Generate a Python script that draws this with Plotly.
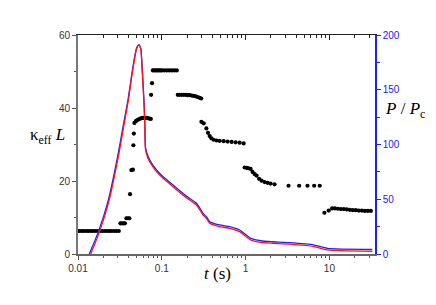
import plotly.graph_objects as go

# kappa_eff L (left axis) vs t
t_kappa = [0.0103, 0.0110, 0.0117, 0.0125, 0.0133, 0.0142, 0.0151, 0.0161, 0.0172, 0.0184,
           0.0196, 0.0209, 0.0223, 0.0237, 0.0253, 0.0270, 0.0288, 0.0307,
           0.0321, 0.0334, 0.0348, 0.0363,
           0.0378, 0.0394, 0.0410,
           0.0418,
           0.0433, 0.0452,
           0.0458, 0.0464,
           0.0471, 0.0490, 0.0511, 0.0532, 0.0555, 0.0578, 0.0602, 0.0627, 0.0654, 0.0681, 0.0710, 0.0739,
           0.0745, 0.0765,
           0.0781, 0.0814, 0.0848, 0.0884, 0.0921, 0.0960, 0.1000, 0.1071, 0.1147, 0.1228, 0.1315, 0.1409, 0.1509,
           0.1550, 0.1638, 0.1730, 0.1828, 0.1931, 0.2040, 0.2154, 0.2276, 0.2405, 0.2540, 0.2683, 0.2835, 0.2953,
           0.2970, 0.3162, 0.3403, 0.3557, 0.3728, 0.3905, 0.4159, 0.4516, 0.4903, 0.5470, 0.6105, 0.6813, 0.7603, 0.8483, 0.9467,
           0.973, 1.028, 1.086, 1.147, 1.211, 1.280, 1.352, 1.448, 1.551, 1.684, 1.828, 1.984, 2.214,
           3.251, 4.358, 5.471, 6.576, 7.664,
           8.719, 9.81, 10.77, 11.63, 12.63, 13.71, 14.88, 16.16, 17.54, 19.05, 20.68, 22.45, 24.38, 26.46, 28.73, 31.19]
kappa_L = [6.3] * 18 + \
          [8.4, 8.4, 8.4, 8.4] + \
          [9.8, 9.8, 9.8] + \
          [16.4] + \
          [23.0, 23.1] + \
          [29.8, 33.0] + \
          [35.9, 36.4, 36.7, 36.9, 37.1, 37.2, 37.3, 37.3, 37.3, 37.2, 37.1, 37.0] + \
          [43.6, 46.8] + \
          [50.3] * 13 + \
          [43.6, 43.6, 43.6, 43.6, 43.6, 43.5, 43.5, 43.4, 43.3, 43.2, 43.0, 42.8, 42.6] + \
          [36.2, 35.8, 34.4, 33.2, 32.3, 31.7, 31.3, 31.1, 31.0, 30.9, 30.8, 30.7, 30.6, 30.5, 30.3] + \
          [23.7, 23.6, 23.5, 23.3, 22.5, 21.9, 21.5, 20.6, 20.1, 19.7, 19.5, 19.3, 19.1] + \
          [18.7, 18.7, 18.7, 18.7, 18.7] + \
          [11.3, 11.9, 12.5, 12.5, 12.4, 12.3, 12.3, 12.2, 12.1, 12.0, 12.0, 11.9, 11.9, 11.8, 11.8, 11.8]

# P / Pc (right axis) curves
t_blue = [0.01363, 0.01744, 0.02296, 0.0302, 0.0350, 0.0397, 0.0436, 0.0477, 0.0500,
          0.0532, 0.0562, 0.0573, 0.0599, 0.0616, 0.0628, 0.0640, 0.0687, 0.0754, 0.0865,
          0.1036, 0.1156, 0.188, 0.259, 0.310, 0.340, 0.373, 0.490, 0.645, 0.849,
          1.157, 1.52, 2.10, 3.34, 6.58, 9.47, 32.5]
p_blue = [0, 20, 49, 92, 119, 142, 163, 181, 188,
          191, 187.5, 180, 154, 136, 118, 97, 89, 83, 76.7,
          70.6, 67.6, 54, 46.3, 37.2, 34, 29.5, 26.5, 24.9, 21.9,
          14.3, 12.1, 11.2, 10.3, 8.2, 5.2, 4.3]
t_red = [0.01416, 0.0180, 0.0235, 0.0308, 0.0356, 0.0402, 0.0440, 0.0480, 0.0502,
         0.0533, 0.0562, 0.0573, 0.0599, 0.0616, 0.0628, 0.0640, 0.0687, 0.0754, 0.0865,
         0.1036, 0.1156, 0.188, 0.259, 0.310, 0.340, 0.373, 0.490, 0.645, 0.849,
         1.157, 1.52, 2.10, 3.34, 6.58, 9.47, 32.5]
p_red = [0, 20, 49, 92, 119, 142, 163, 181, 188,
         191, 187, 179, 152, 134, 116, 95, 87, 81.5, 75.2,
         69.1, 66.1, 52.5, 44.8, 35.8, 32.6, 28, 25, 23.4, 20.4,
         12.8, 10.6, 9.8, 9.0, 6.8, 3.7, 2.5]

x_tickvals = [0.01, 0.1, 1, 10]
x_ticktext = ["0.01", "0.1", "1", "10"]
x_minor = [m * 10 ** e for e in (-2, -1, 0, 1) for m in range(2, 10) if m * 10 ** e < 35]

font_tick = dict(family="Liberation Sans, Arial, sans-serif", size=10, color="#333333")
serif = "Liberation Serif, Times New Roman, serif"

fig = go.Figure()
fig.add_trace(go.Scatter(x=t_blue, y=p_blue, yaxis="y2", mode="lines",
                         line=dict(color="#2020ff", width=1.3, shape="spline", smoothing=0.6),
                         hoverinfo="skip"))
fig.add_trace(go.Scatter(x=t_red, y=p_red, yaxis="y2", mode="lines",
                         line=dict(color="#ff1010", width=1.3, shape="spline", smoothing=0.6),
                         hoverinfo="skip"))
fig.add_trace(go.Scatter(x=t_kappa, y=kappa_L, mode="markers",
                         marker=dict(color="black", size=4.2), hoverinfo="skip"))
# invisible trace to carry the top axis
fig.add_trace(go.Scatter(x=[0.02, 20], y=[1, 1], xaxis="x2", mode="markers",
                         marker=dict(opacity=0), hoverinfo="skip"))

# page body has an 8px margin: figure is 428x297, plot area at page x 78..375, y 35..254
W, H = 428, 297
L, R, T, B = 70, 428 - 367, 27, 297 - 246
xr = [-2, 1.544]
fig.update_layout(
    width=W, height=H,
    margin=dict(l=L, r=R, t=T, b=B),
    paper_bgcolor="white", plot_bgcolor="white",
    showlegend=False,
    xaxis=dict(type="log", range=xr, tickmode="array", tickvals=x_tickvals, ticktext=x_ticktext,
               ticks="outside", ticklen=4, tickcolor="#555555", tickfont=font_tick,
               showline=True, linecolor="#666666", linewidth=1.5, showgrid=False, zeroline=False,
               minor=dict(tickmode="array", tickvals=x_minor, ticks="outside", ticklen=2,
                          tickcolor="#555555", showgrid=False)),
    xaxis2=dict(type="log", range=xr, overlaying="x", side="top", anchor="y",
                tickmode="array", tickvals=x_tickvals, showticklabels=False,
                ticks="inside", ticklen=5, tickcolor="#222222",
                showline=True, linecolor="#222222", linewidth=1, showgrid=False, zeroline=False,
                minor=dict(tickmode="array", tickvals=x_minor, ticks="inside", ticklen=2.5,
                           tickcolor="#222222", showgrid=False)),
    yaxis=dict(range=[0, 60], tickvals=[0, 20, 40, 60], ticks="outside", ticklen=4,
               tickcolor="#555555", tickfont=font_tick,
               showline=True, linecolor="#777777", linewidth=2, showgrid=False, zeroline=False,
               minor=dict(tickvals=[10, 30, 50], ticks="outside", ticklen=2.5, tickcolor="#555555",
                          showgrid=False)),
    yaxis2=dict(range=[0, 200], tickvals=[0, 50, 100, 150, 200], overlaying="y", side="right",
                ticks="outside", ticklen=4, tickcolor="#2020ff",
                tickfont=dict(family="Liberation Sans, Arial, sans-serif", size=10, color="#2020ff"),
                showline=True, linecolor="#2020ff", linewidth=1.5, showgrid=False, zeroline=False,
                minor=dict(tickvals=[25, 75, 125, 175], ticks="outside", ticklen=3,
                           tickcolor="#2020ff", showgrid=False)),
)

# axis titles placed by page pixel position (centre)
titles = [
    ("κ<sub>eff</sub> <i>L</i>", 47, 136),
    ("<i>P</i> / <i>P</i><sub>c</sub>", 405, 110),
    ("<i>t</i> (s)", 217, 273),
]
pw, ph = W - L - R, H - T - B
for text, px, py in titles:
    fig.add_annotation(text=text, x=(px - 8 - L) / pw, y=1 - (py - 8 - T) / ph,
                       xref="paper", yref="paper", showarrow=False,
                       xanchor="center", yanchor="middle",
                       font=dict(family=serif, size=17, color="black"))

fig.write_html("out.html")
